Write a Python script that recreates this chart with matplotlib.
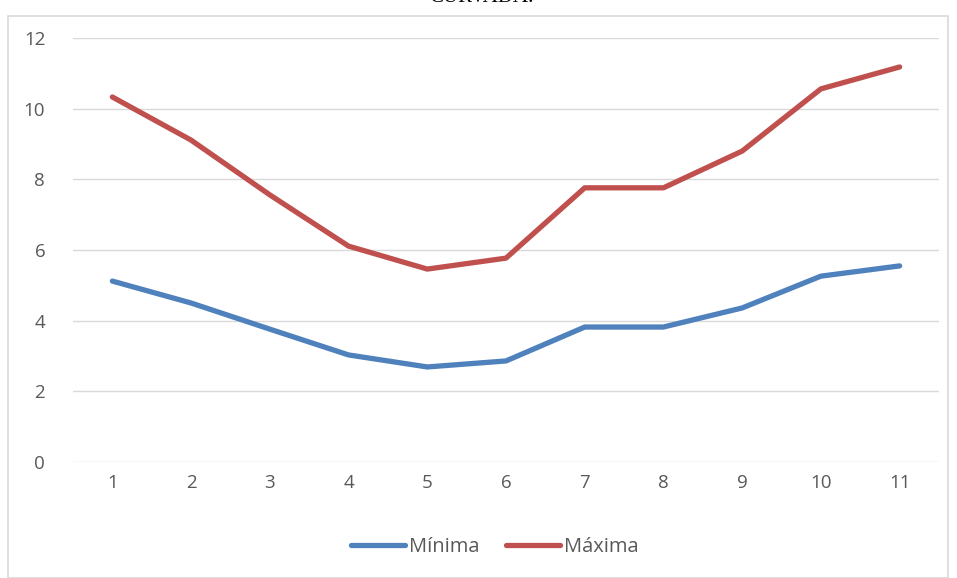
import matplotlib.pyplot as plt
from matplotlib.patches import Rectangle

meses = [1, 2, 3, 4, 5, 6, 7, 8, 9, 10, 11]
minima = [5.12, 4.5, 3.76, 3.03, 2.69, 2.86, 3.82, 3.82, 4.36, 5.26, 5.55]
maxima = [10.33, 9.11, 7.56, 6.11, 5.46, 5.77, 7.76, 7.76, 8.8, 10.56, 11.18]
yticks = [0, 2, 4, 6, 8, 10, 12]

plt.rcParams['font.family'] = ['Open Sans', 'DejaVu Sans']

fig = plt.figure(figsize=(9.57, 5.78), dpi=100)
W, H = 957, 578

# chart frame
fig.patches.append(Rectangle((8 / W, 0), 940 / W, 1 - 16 / H, transform=fig.transFigure,
                             fill=False, edgecolor='#D9D9D9', linewidth=1.2))

# title, mostly cut off above the frame
fig.text(0.503, 1.005, 'CURVADA.', ha='center', va='center', fontsize=15,
         family='Liberation Serif', color='black')

ax = fig.add_axes([73 / W, 1 - 462 / H, (939 - 73) / W, (462 - 38) / H])
ax.plot(meses, minima, color='#4F81BD', lw=3.8, solid_capstyle='round', solid_joinstyle='round', label='Mínima')
ax.plot(meses, maxima, color='#C0504D', lw=3.8, solid_capstyle='round', solid_joinstyle='round', label='Máxima')

ax.set_xlim(0.5, 11.5)
ax.set_ylim(0, 12)
ax.set_yticks(yticks)
ax.set_xticks(meses)
ax.grid(axis='y', color='#D9D9D9', linewidth=1)
ax.set_axisbelow(True)
for s in ax.spines.values():
    s.set_visible(False)
ax.tick_params(length=0, labelsize=13.5, labelcolor='#595959')
ax.tick_params(axis='y', pad=20)
ax.tick_params(axis='x', pad=9)

leg = ax.legend(loc='center', bbox_to_anchor=(0.487, -0.2), ncol=2, frameon=False,
                fontsize=14.5, handlelength=2.65, handletextpad=0.2, columnspacing=1.35)
for t in leg.get_texts():
    t.set_color('#595959')

fig.savefig('out.png', dpi=100)
